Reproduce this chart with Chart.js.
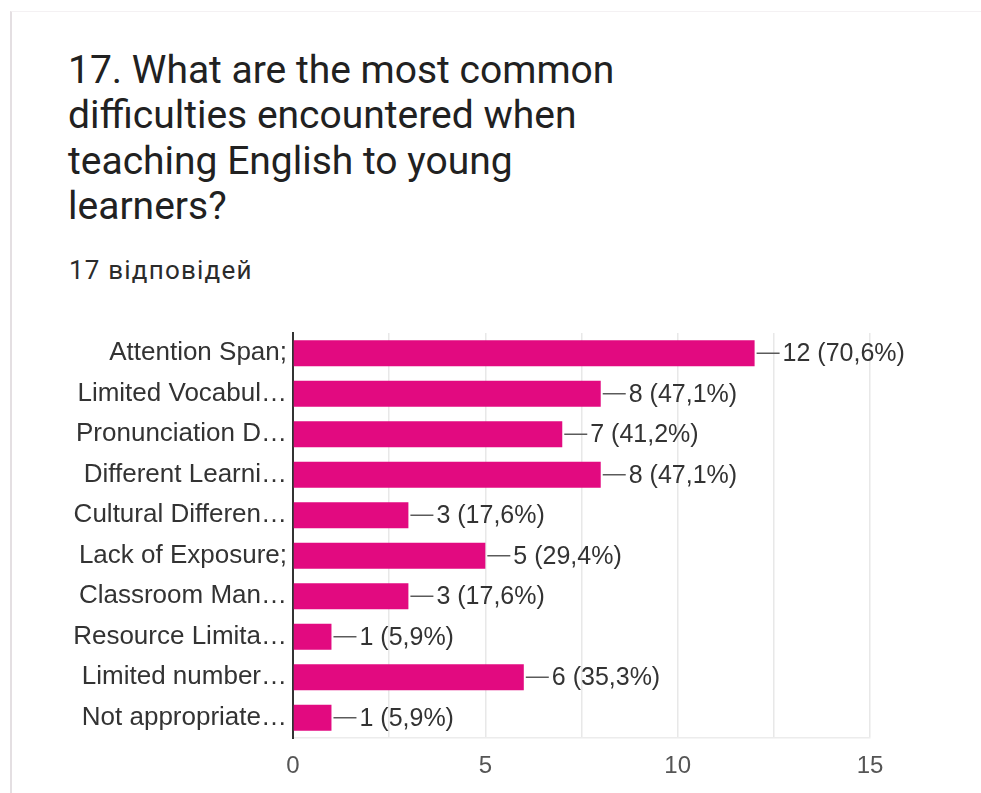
<!DOCTYPE html>
<html>
<head>
<meta charset="utf-8">
<script src="https://cdn.jsdelivr.net/npm/chart.js@4.4.1/dist/chart.umd.min.js"></script>
<style>
  html, body { margin: 0; padding: 0; background: #ffffff; }
  #page { position: relative; width: 981px; height: 793px; overflow: hidden; background: #fff; }
  #card { position: absolute; left: 10px; top: 11px; right: 0; bottom: 0;
          border-left: 2px solid #e4dfe2; border-top: 1px solid #f4f1f3; }
  #title { position: absolute; left: 68px; top: 48px; margin: 0;
           font-family: Roboto, "Liberation Sans", sans-serif; font-weight: 400;
           font-size: 39px; line-height: 45.3px; color: #212121; }
  #subtitle { position: absolute; left: 69px; top: 255px; margin: 0;
              font-family: Roboto, "Liberation Sans", sans-serif; font-size: 26px;
              letter-spacing: 1.2px; color: #2b2b2b; }
  #chartBox { position: absolute; left: 0; top: 0; width: 981px; height: 793px; }
</style>
</head>
<body>
<div id="page">
  <div id="card"></div>
  <h1 id="title">17. What are the most common<br>difficulties encountered when<br>teaching English to young<br>learners?</h1>
  <div id="subtitle">17 відповідей</div>
  <div id="chartBox"><canvas id="chart"></canvas></div>
</div>
<script>
// Survey answers: how many of the 17 respondents picked each difficulty
const categories = [
  "Attention Span;",
  "Limited Vocabul\u2026",
  "Pronunciation D\u2026",
  "Different Learni\u2026",
  "Cultural Differen\u2026",
  "Lack of Exposure;",
  "Classroom Man\u2026",
  "Resource Limita\u2026",
  "Limited number\u2026",
  "Not appropriate\u2026"
];
const counts = [12, 8, 7, 8, 3, 5, 3, 1, 6, 1];
const totalResponses = 17;
const axisTicks = [0, 5, 10, 15];

const barColor = "#e20a80";
const axisFont = "'Liberation Sans', Arial, sans-serif";

// "12 (70,6%)" style labels with a short leader line after each bar
const valueLabels = {
  id: "valueLabels",
  afterDatasetsDraw(chart) {
    const ctx = chart.ctx;
    const meta = chart.getDatasetMeta(0);
    ctx.save();
    ctx.font = "25px " + axisFont;
    ctx.textAlign = "left";
    ctx.textBaseline = "middle";
    meta.data.forEach((bar, i) => {
      const v = counts[i];
      const pct = (v / totalResponses * 100).toFixed(1).replace(".", ",");
      const x = bar.x, y = bar.y;
      ctx.strokeStyle = "#5a5a5a";
      ctx.lineWidth = 1.5;
      ctx.beginPath();
      ctx.moveTo(x + 2, y);
      ctx.lineTo(x + 25, y);
      ctx.stroke();
      ctx.fillStyle = "#333333";
      ctx.fillText(v + " (" + pct + "%)", x + 28, y + 1);
    });
    ctx.restore();
  }
};

new Chart(document.getElementById("chart"), {
  type: "bar",
  data: {
    labels: categories,
    datasets: [{
      data: counts,
      backgroundColor: barColor,
      borderWidth: 0,
      barPercentage: 0.8,
      categoryPercentage: 0.8
    }]
  },
  options: {
    indexAxis: "y",
    responsive: true,
    maintainAspectRatio: false,
    animation: false,
    layout: { padding: { top: 333, right: 111, bottom: 0, left: 0 } },
    plugins: {
      legend: { display: false },
      tooltip: { enabled: false }
    },
    scales: {
      x: {
        min: 0,
        max: 15,
        afterFit(scale) { scale.height = 55; },
        afterBuildTicks(scale) {
          const t = [];
          for (let v = 0; v <= 15; v += 2.5) t.push({ value: v });
          scale.ticks = t;
        },
        ticks: {
          padding: 14,
          color: "#555555",
          font: { family: axisFont, size: 24 },
          callback: (v) => axisTicks.includes(v) ? String(v) : ""
        },
        grid: { color: "#e8e8e8", lineWidth: 1.5, drawTicks: false },
        border: { display: true, color: "#ececec", width: 1.5 }
      },
      y: {
        afterFit(scale) { scale.width = 293; },
        ticks: {
          padding: 6,
          color: "#333333",
          font: { family: axisFont, size: 26 },
          autoSkip: false
        },
        grid: { display: false, drawTicks: false },
        border: { display: true, color: "#333333", width: 2 }
      }
    }
  },
  plugins: [valueLabels]
});
</script>
</body>
</html>
